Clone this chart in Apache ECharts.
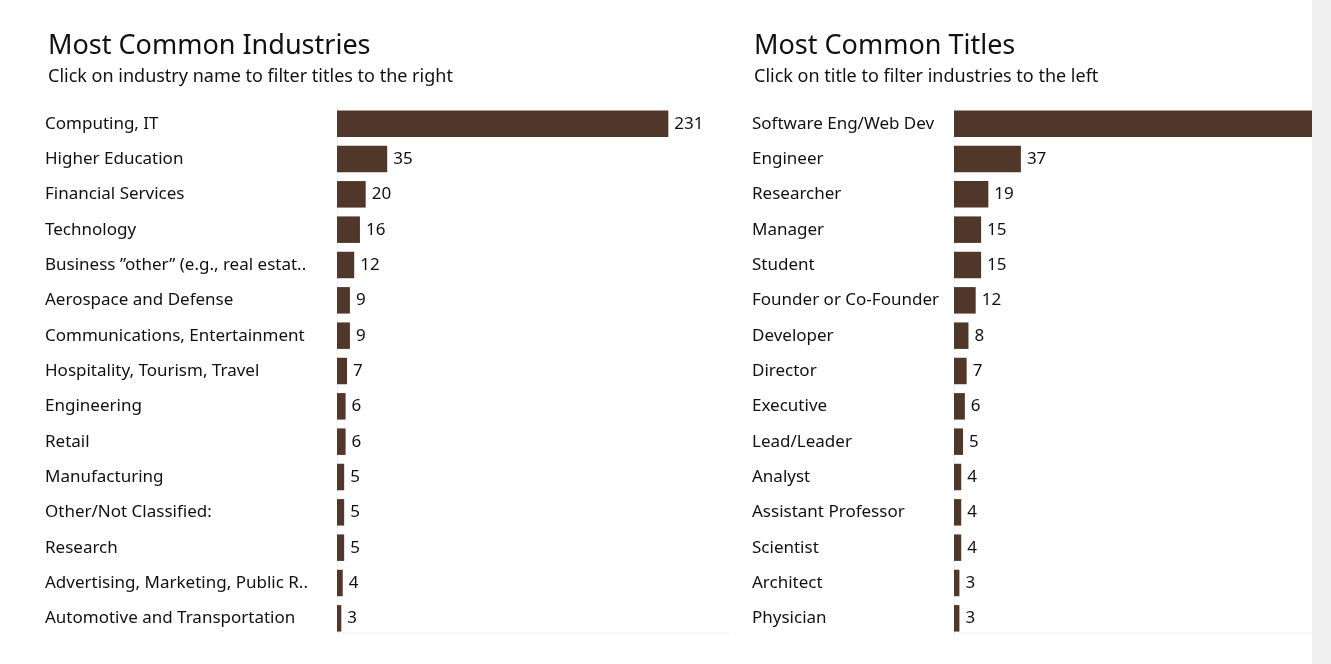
<!DOCTYPE html>
<html><head><meta charset="utf-8">
<script src="https://cdn.jsdelivr.net/npm/echarts@6/dist/echarts.min.js"></script>
<style>html,body{margin:0;background:#fff}#c{width:1331px;height:664px}</style>
</head><body><div id="c"></div>
<script>
const industries = ['Computing, IT','Higher Education','Financial Services','Technology','Business ”other” (e.g., real estat..','Aerospace and Defense','Communications, Entertainment','Hospitality, Tourism, Travel','Engineering','Retail','Manufacturing','Other/Not Classified:','Research','Advertising, Marketing, Public R..','Automotive and Transportation'];
const industryCounts = [231,35,20,16,12,9,9,7,6,6,5,5,5,4,3];
const titles = ['Software Eng/Web Dev','Engineer','Researcher','Manager','Student','Founder or Co-Founder','Developer','Director','Executive','Lead/Leader','Analyst','Assistant Professor','Scientist','Architect','Physician'];
const titleCounts = [250,37,19,15,15,12,8,7,6,5,4,4,4,3,3];

const chart = echarts.init(document.getElementById('c'));
const font = '"Noto Sans", sans-serif';
const brown = '#50372a';
function axes(idx, margin, max) {
  return {
    x: {gridIndex: idx, type: 'value', min: 0, max: max, show: true, axisLine: {show: false}, axisTick: {show: false}, axisLabel: {show: false}, splitLine: {show: false}},
    y: {gridIndex: idx, type: 'category', inverse: true, data: idx ? titles : industries,
        axisLine: {show: true, lineStyle: {color: '#f0f0f0'}}, axisTick: {show: false},
        axisLabel: {align: 'left', margin: margin, color: '#111', fontSize: 17, fontFamily: font}}
  };
}
const a0 = axes(0, 292, 274), a1 = axes(1, 202, 198);
chart.setOption({
  animation: false,
  graphic: [
    {type: 'rect', shape: {x: 1312, y: 0, width: 19, height: 664}, style: {fill: '#f0f0f0'}},
    {type: 'line', shape: {x1: 337, y1: 633, x2: 730, y2: 633}, style: {stroke: '#eeeeee'}},
    {type: 'line', shape: {x1: 954, y1: 633, x2: 1312, y2: 633}, style: {stroke: '#eeeeee'}}
  ],
  title: [
    {text: 'Most Common Industries', subtext: 'Click on industry name to filter titles to the right', left: 43, top: 28, itemGap: 8,
     textStyle: {fontSize: 27, fontWeight: 'normal', color: '#111', fontFamily: font}, subtextStyle: {fontSize: 18, color: '#111', fontFamily: font}},
    {text: 'Most Common Titles', subtext: 'Click on title to filter industries to the left', left: 749, top: 28, itemGap: 8,
     textStyle: {fontSize: 27, fontWeight: 'normal', color: '#111', fontFamily: font}, subtextStyle: {fontSize: 18, color: '#111', fontFamily: font}}
  ],
  grid: [
    {left: 337, width: 393, top: 106, height: 530},
    {left: 954, width: 358, top: 106, height: 530}
  ],
  xAxis: [a0.x, a1.x],
  yAxis: [a0.y, a1.y],
  series: [
    {type: 'bar', xAxisIndex: 0, yAxisIndex: 0, data: industryCounts, barCategoryGap: '25%', itemStyle: {color: brown},
     label: {show: true, position: 'right', distance: 6, color: '#111', fontSize: 17, fontFamily: font}},
    {type: 'bar', xAxisIndex: 1, yAxisIndex: 1, clip: true, barCategoryGap: '25%', itemStyle: {color: brown},
     data: titleCounts.map((v, i) => i === 0 ? {value: v, label: {show: false}} : v),
     label: {show: true, position: 'right', distance: 6, color: '#111', fontSize: 17, fontFamily: font}}
  ]
});
</script></body></html>
